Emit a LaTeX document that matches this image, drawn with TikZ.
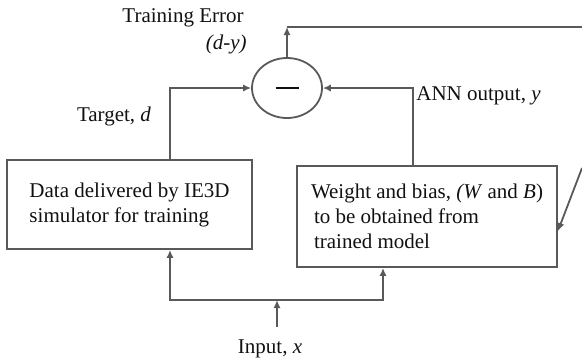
\documentclass[tikz,border=0pt]{standalone}
\usepackage{fontspec}
\setmainfont{Liberation Serif}
\usepackage{tikz}
\usetikzlibrary{arrows.meta,shapes.geometric,positioning}
\definecolor{wire}{HTML}{595959}
\definecolor{ink}{HTML}{111111}
\tikzset{
  wirel/.style={draw=wire, line width=0.9pt},
  arr/.style={wirel, -{Latex[length=4pt,width=3.6pt]}},
  blk/.style={draw=wire, line width=0.9pt, align=left, inner sep=0pt, text=ink},
  sumnode/.style={ellipse, draw=wire, line width=0.9pt, minimum width=35pt, minimum height=30pt, inner sep=0pt},
  lab/.style={text=ink, inner sep=0pt},
  every node/.style={font=\fontsize{10.5}{12.5}\selectfont},
}
\begin{document}
\begin{tikzpicture}[x=0.5pt,y=-0.5pt]
\useasboundingbox (0,0) rectangle (582,361);

\node[sumnode] (sum) at (287,88) {\textcolor{ink}{\rule{11.5pt}{1.1pt}}};
\node[blk, minimum width=122.5pt, minimum height=44.5pt] (data) at (129.5,204.5)
  {\fontsize{10.5}{10.8}\selectfont Data delivered by IE3D\\simulator for training};
\node[blk, minimum width=130pt, minimum height=50.5pt] (wb) at (427,216.5)
  {\fontsize{10.5}{13.5}\selectfont Weight and bias, \textit{(W} and \textit{B})\\\hspace{1.5pt}to be obtained from\\\hspace{1.5pt}trained model};

\node[lab] (err) at (183,18) {Training Error};
\node[lab, anchor=east] (dy) at (247,44) {\textit{(d-y)}};
\node[lab] (tgt) at (114,116) {Target, \textit{d}};
\node[lab, anchor=west] (ann) at (416,96) {ANN output, \textit{y}};
\node[lab] (inp) at (270,349) {Input, \textit{x}};

\coordinate (up) at (287,27);
\coordinate (rt) at (582,27);
\coordinate (fb) at (582,168);
\coordinate (in) at (277,327);
\coordinate (jn) at (277,300);

\draw[arr] ([xshift=20.25pt]data.north) |- (sum.west);
\draw[arr] ([xshift=-7pt]wb.north) |- (sum.east);
\draw[arr] (sum.north) -- (up);
\draw[wirel] (up) -- (rt);
\draw[arr] (fb) -- ([yshift=-7.25pt]wb.east);
\draw[arr] (in) -- (jn);
\draw[arr] (jn) -| ([xshift=20.25pt]data.south);
\draw[arr] (jn) -| ([xshift=-22pt]wb.south);
\end{tikzpicture}
\end{document}
